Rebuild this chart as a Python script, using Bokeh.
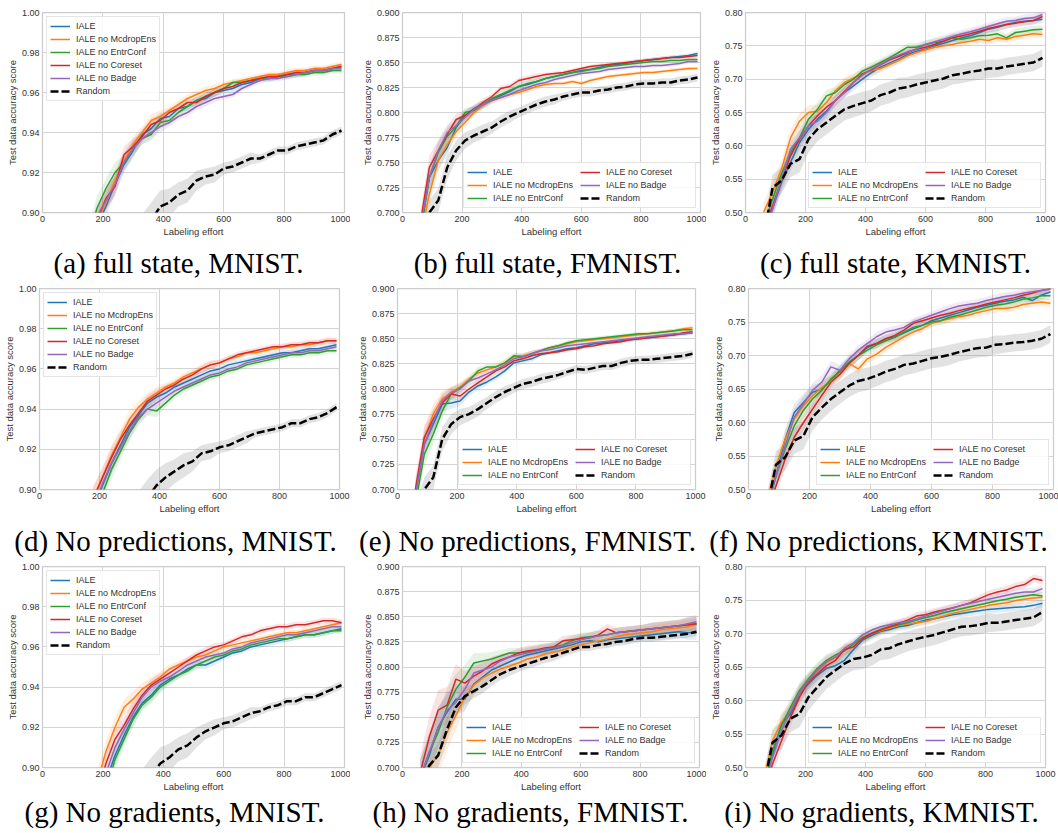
import numpy as np
from bokeh.plotting import figure
from bokeh.layouts import column, row
from bokeh.models import (Range1d, FixedTicker, PrintfTickFormatter, Label,
                          Legend, LegendItem)
from bokeh.embed import file_html
from bokeh.resources import INLINE

# ---------------------------------------------------------------- labels
LABELS = ["IALE", "IALE no McdropEns", "IALE no EntrConf", "IALE no Coreset", "IALE no Badge"]
RANDOM_LABEL = "Random"
COLORS = ["#1f77b4", "#ff7f0e", "#2ca02c", "#d62728", "#9467bd"]

# ---------------------------------------------------------------- x grids / ticks
X_MNIST = [150, 180, 210, 240, 270, 300, 330, 360,
           390, 420, 450, 480, 510, 540, 570, 600,
           630, 660, 690, 720, 750, 780, 810, 840,
           870, 900, 930, 960, 990]
X_WIDE = [60, 90, 120, 150, 180, 210, 240, 270,
          300, 330, 360, 390, 420, 450, 480, 510,
          540, 570, 600, 630, 660, 690, 720, 750,
          780, 810, 840, 870, 900, 930, 960, 990]
X_TICKS = [0, 200, 400, 600, 800, 1000]
MNIST_TICKS = [0.90, 0.92, 0.94, 0.96, 0.98, 1.00]
FMNIST_TICKS = [0.700, 0.725, 0.750, 0.775, 0.800, 0.825, 0.850, 0.875, 0.900]
KMNIST_TICKS = [0.50, 0.55, 0.60, 0.65, 0.70, 0.75, 0.80]

# ---------------------------------------------------------------- (a) full state, MNIST
A_IALE = [0.878, 0.893, 0.903, 0.914, 0.924, 0.931, 0.939, 0.942,
          0.947, 0.948, 0.952, 0.953, 0.956, 0.957, 0.960, 0.961,
          0.962, 0.964, 0.965, 0.967, 0.967, 0.968, 0.969, 0.969,
          0.970, 0.971, 0.971, 0.972, 0.973]
A_MCD = [0.880, 0.895, 0.905, 0.916, 0.926, 0.934, 0.940, 0.946,
         0.948, 0.951, 0.954, 0.957, 0.959, 0.961, 0.962, 0.964,
         0.965, 0.966, 0.967, 0.968, 0.969, 0.969, 0.970, 0.971,
         0.971, 0.972, 0.972, 0.973, 0.974]
A_ENT = [0.886, 0.902, 0.912, 0.920, 0.925, 0.932, 0.937, 0.939,
         0.945, 0.946, 0.950, 0.953, 0.956, 0.958, 0.960, 0.962,
         0.965, 0.965, 0.966, 0.967, 0.967, 0.968, 0.968, 0.969,
         0.969, 0.970, 0.970, 0.971, 0.971]
A_CORE = [0.876, 0.896, 0.907, 0.913, 0.929, 0.933, 0.938, 0.944,
          0.946, 0.950, 0.952, 0.955, 0.955, 0.958, 0.960, 0.962,
          0.963, 0.965, 0.966, 0.967, 0.968, 0.968, 0.969, 0.970,
          0.970, 0.971, 0.971, 0.972, 0.973]
A_BADGE = [0.884, 0.898, 0.906, 0.914, 0.925, 0.932, 0.937, 0.940,
           0.943, 0.945, 0.948, 0.950, 0.953, 0.955, 0.957, 0.958,
           0.959, 0.962, 0.964, 0.966, 0.967, 0.967, 0.968, 0.969,
           0.970, 0.971, 0.971, 0.972, 0.972]
A_RAND = [0.855, 0.862, 0.868, 0.874, 0.879, 0.884, 0.889, 0.896,
          0.903, 0.905, 0.909, 0.911, 0.916, 0.918, 0.919, 0.922,
          0.923, 0.925, 0.927, 0.927, 0.929, 0.931, 0.931, 0.933,
          0.934, 0.935, 0.936, 0.939, 0.941]

# ---------------------------------------------------------------- (d) no predictions, MNIST
D_IALE = [0.872, 0.890, 0.902, 0.913, 0.922, 0.931, 0.937, 0.943,
          0.946, 0.948, 0.951, 0.953, 0.955, 0.957, 0.959, 0.960,
          0.962, 0.963, 0.964, 0.965, 0.966, 0.967, 0.968, 0.968,
          0.969, 0.970, 0.970, 0.971, 0.972]
D_MCD = [0.878, 0.895, 0.906, 0.917, 0.926, 0.935, 0.941, 0.945,
         0.948, 0.951, 0.953, 0.956, 0.958, 0.960, 0.962, 0.963,
         0.965, 0.966, 0.968, 0.968, 0.969, 0.970, 0.971, 0.971,
         0.972, 0.972, 0.973, 0.974, 0.974]
D_ENT = [0.868, 0.885, 0.898, 0.910, 0.919, 0.928, 0.935, 0.940,
         0.939, 0.943, 0.947, 0.950, 0.952, 0.954, 0.956, 0.957,
         0.959, 0.960, 0.962, 0.963, 0.964, 0.965, 0.966, 0.967,
         0.967, 0.968, 0.968, 0.969, 0.969]
D_CORE = [0.880, 0.896, 0.906, 0.916, 0.925, 0.932, 0.938, 0.944,
          0.947, 0.950, 0.952, 0.955, 0.957, 0.960, 0.962, 0.963,
          0.965, 0.967, 0.968, 0.969, 0.970, 0.971, 0.971, 0.972,
          0.972, 0.973, 0.973, 0.974, 0.974]
D_BADGE = [0.874, 0.890, 0.903, 0.913, 0.921, 0.929, 0.936, 0.940,
           0.943, 0.946, 0.949, 0.951, 0.953, 0.955, 0.957, 0.958,
           0.960, 0.961, 0.963, 0.964, 0.965, 0.966, 0.967, 0.968,
           0.968, 0.969, 0.969, 0.970, 0.971]
D_RAND = [0.850, 0.858, 0.865, 0.872, 0.878, 0.884, 0.889, 0.896,
          0.902, 0.906, 0.909, 0.912, 0.914, 0.918, 0.919, 0.921,
          0.922, 0.924, 0.926, 0.928, 0.929, 0.930, 0.931, 0.933,
          0.933, 0.935, 0.936, 0.938, 0.941]

# ---------------------------------------------------------------- (g) no gradients, MNIST
G_IALE = [0.862, 0.878, 0.893, 0.906, 0.916, 0.925, 0.932, 0.936,
          0.941, 0.944, 0.946, 0.949, 0.951, 0.951, 0.953, 0.955,
          0.957, 0.958, 0.960, 0.961, 0.962, 0.963, 0.964, 0.965,
          0.966, 0.966, 0.967, 0.968, 0.969]
G_MCD = [0.875, 0.892, 0.908, 0.920, 0.930, 0.934, 0.939, 0.942,
         0.945, 0.949, 0.951, 0.953, 0.955, 0.956, 0.958, 0.960,
         0.961, 0.962, 0.963, 0.964, 0.965, 0.966, 0.967, 0.967,
         0.968, 0.969, 0.970, 0.971, 0.972]
G_ENT = [0.855, 0.872, 0.888, 0.904, 0.914, 0.924, 0.931, 0.935,
         0.940, 0.943, 0.946, 0.948, 0.951, 0.953, 0.955, 0.956,
         0.958, 0.959, 0.961, 0.962, 0.963, 0.964, 0.964, 0.965,
         0.966, 0.966, 0.967, 0.968, 0.968]
G_CORE = [0.868, 0.885, 0.902, 0.914, 0.921, 0.929, 0.936, 0.941,
          0.944, 0.947, 0.950, 0.953, 0.956, 0.958, 0.960, 0.961,
          0.963, 0.965, 0.966, 0.968, 0.969, 0.970, 0.970, 0.971,
          0.971, 0.972, 0.973, 0.973, 0.972]
G_BADGE = [0.860, 0.880, 0.897, 0.910, 0.919, 0.927, 0.935, 0.940,
           0.943, 0.945, 0.948, 0.951, 0.953, 0.955, 0.956, 0.957,
           0.959, 0.960, 0.962, 0.963, 0.964, 0.965, 0.966, 0.966,
           0.967, 0.968, 0.969, 0.970, 0.970]
G_RAND = [0.852, 0.860, 0.866, 0.872, 0.878, 0.884, 0.889, 0.896,
          0.902, 0.905, 0.909, 0.911, 0.915, 0.918, 0.920, 0.922,
          0.923, 0.925, 0.927, 0.928, 0.930, 0.931, 0.933, 0.933,
          0.935, 0.935, 0.937, 0.939, 0.941]

# ---------------------------------------------------------------- (b) full state, FMNIST
B_IALE = [0.680, 0.735, 0.752, 0.765, 0.785, 0.797, 0.804, 0.808,
          0.813, 0.817, 0.821, 0.826, 0.828, 0.831, 0.834, 0.836,
          0.838, 0.840, 0.842, 0.843, 0.845, 0.847, 0.848, 0.849,
          0.851, 0.852, 0.853, 0.854, 0.855, 0.856, 0.857, 0.859]
B_MCD = [0.675, 0.718, 0.752, 0.768, 0.781, 0.790, 0.800, 0.807,
         0.812, 0.815, 0.818, 0.820, 0.823, 0.826, 0.828, 0.829,
         0.829, 0.831, 0.829, 0.832, 0.834, 0.836, 0.837, 0.838,
         0.839, 0.840, 0.840, 0.841, 0.842, 0.843, 0.844, 0.844]
B_ENT = [0.680, 0.735, 0.760, 0.776, 0.786, 0.800, 0.802, 0.808,
         0.814, 0.818, 0.822, 0.826, 0.829, 0.831, 0.834, 0.836,
         0.838, 0.840, 0.841, 0.843, 0.844, 0.846, 0.847, 0.848,
         0.849, 0.850, 0.851, 0.851, 0.852, 0.852, 0.853, 0.853]
B_CORE = [0.690, 0.745, 0.762, 0.778, 0.793, 0.797, 0.803, 0.810,
          0.816, 0.824, 0.826, 0.832, 0.834, 0.836, 0.838, 0.839,
          0.840, 0.842, 0.844, 0.846, 0.847, 0.848, 0.849, 0.850,
          0.851, 0.852, 0.853, 0.854, 0.855, 0.855, 0.856, 0.857]
B_BADGE = [0.685, 0.735, 0.762, 0.780, 0.787, 0.795, 0.803, 0.808,
           0.812, 0.815, 0.818, 0.822, 0.825, 0.828, 0.830, 0.833,
           0.835, 0.837, 0.839, 0.840, 0.841, 0.843, 0.844, 0.845,
           0.846, 0.846, 0.847, 0.847, 0.848, 0.849, 0.851, 0.851]
B_RAND = [0.680, 0.700, 0.712, 0.745, 0.762, 0.772, 0.777, 0.781,
          0.785, 0.791, 0.796, 0.800, 0.804, 0.808, 0.811, 0.813,
          0.816, 0.818, 0.820, 0.820, 0.822, 0.823, 0.825, 0.826,
          0.828, 0.829, 0.829, 0.830, 0.830, 0.832, 0.833, 0.835]

# ---------------------------------------------------------------- (e) no predictions, FMNIST
E_IALE = [0.695, 0.745, 0.765, 0.785, 0.786, 0.788, 0.797, 0.803,
          0.807, 0.812, 0.818, 0.826, 0.828, 0.830, 0.834, 0.836,
          0.838, 0.840, 0.841, 0.843, 0.845, 0.846, 0.847, 0.848,
          0.849, 0.850, 0.851, 0.852, 0.853, 0.854, 0.855, 0.856]
E_MCD = [0.695, 0.750, 0.775, 0.790, 0.797, 0.802, 0.810, 0.816,
         0.819, 0.822, 0.826, 0.832, 0.833, 0.835, 0.838, 0.841,
         0.843, 0.845, 0.847, 0.848, 0.849, 0.850, 0.851, 0.852,
         0.853, 0.854, 0.855, 0.856, 0.857, 0.858, 0.860, 0.861]
E_ENT = [0.685, 0.735, 0.755, 0.778, 0.795, 0.801, 0.808, 0.818,
         0.822, 0.822, 0.826, 0.833, 0.832, 0.835, 0.838, 0.841,
         0.843, 0.846, 0.848, 0.849, 0.850, 0.851, 0.852, 0.853,
         0.854, 0.855, 0.855, 0.856, 0.857, 0.858, 0.859, 0.859]
E_CORE = [0.700, 0.752, 0.770, 0.786, 0.795, 0.793, 0.800, 0.806,
          0.812, 0.818, 0.822, 0.828, 0.830, 0.833, 0.835, 0.836,
          0.837, 0.839, 0.840, 0.842, 0.843, 0.845, 0.846, 0.847,
          0.849, 0.850, 0.851, 0.852, 0.853, 0.854, 0.856, 0.857]
E_BADGE = [0.695, 0.745, 0.768, 0.788, 0.796, 0.800, 0.808, 0.811,
           0.815, 0.819, 0.824, 0.830, 0.832, 0.835, 0.838, 0.839,
           0.841, 0.843, 0.844, 0.845, 0.846, 0.847, 0.848, 0.849,
           0.850, 0.851, 0.852, 0.853, 0.854, 0.855, 0.855, 0.856]
E_RAND = [0.670, 0.700, 0.712, 0.750, 0.765, 0.772, 0.775, 0.780,
          0.786, 0.792, 0.797, 0.801, 0.805, 0.807, 0.810, 0.812,
          0.814, 0.817, 0.820, 0.819, 0.821, 0.823, 0.823, 0.826,
          0.828, 0.829, 0.829, 0.830, 0.831, 0.832, 0.833, 0.835]

# ---------------------------------------------------------------- (h) no gradients, FMNIST
H_IALE = [0.690, 0.712, 0.740, 0.755, 0.768, 0.768, 0.783, 0.790,
          0.797, 0.801, 0.805, 0.809, 0.812, 0.814, 0.816, 0.818,
          0.820, 0.822, 0.825, 0.826, 0.825, 0.827, 0.828, 0.829,
          0.830, 0.831, 0.832, 0.833, 0.834, 0.835, 0.834, 0.834]
H_MCD = [0.680, 0.700, 0.712, 0.735, 0.752, 0.770, 0.782, 0.789,
         0.794, 0.798, 0.801, 0.804, 0.808, 0.810, 0.813, 0.815,
         0.817, 0.820, 0.822, 0.824, 0.826, 0.828, 0.830, 0.832,
         0.833, 0.834, 0.835, 0.837, 0.838, 0.839, 0.840, 0.842]
H_ENT = [0.690, 0.715, 0.735, 0.760, 0.778, 0.790, 0.804, 0.806,
         0.808, 0.811, 0.814, 0.814, 0.815, 0.817, 0.818, 0.820,
         0.822, 0.826, 0.829, 0.830, 0.831, 0.832, 0.834, 0.835,
         0.836, 0.837, 0.838, 0.839, 0.840, 0.841, 0.842, 0.843]
H_CORE = [0.695, 0.730, 0.757, 0.762, 0.788, 0.784, 0.791, 0.796,
          0.803, 0.807, 0.810, 0.814, 0.816, 0.817, 0.819, 0.820,
          0.826, 0.827, 0.828, 0.829, 0.832, 0.838, 0.834, 0.835,
          0.836, 0.837, 0.838, 0.839, 0.840, 0.841, 0.842, 0.843]
H_BADGE = [0.690, 0.715, 0.740, 0.757, 0.765, 0.778, 0.794, 0.797,
           0.800, 0.806, 0.810, 0.812, 0.814, 0.816, 0.818, 0.819,
           0.821, 0.824, 0.827, 0.829, 0.831, 0.832, 0.834, 0.835,
           0.836, 0.837, 0.838, 0.839, 0.840, 0.841, 0.843, 0.845]
H_RAND = [0.680, 0.702, 0.712, 0.738, 0.760, 0.771, 0.776, 0.781,
          0.787, 0.793, 0.797, 0.800, 0.803, 0.806, 0.809, 0.811,
          0.814, 0.817, 0.820, 0.820, 0.822, 0.823, 0.825, 0.826,
          0.828, 0.829, 0.829, 0.830, 0.831, 0.832, 0.833, 0.835]

# ---------------------------------------------------------------- (c) full state, KMNIST
C_IALE = [0.470, 0.505, 0.545, 0.575, 0.605, 0.625, 0.640, 0.652,
          0.668, 0.680, 0.690, 0.700, 0.710, 0.718, 0.724, 0.730,
          0.737, 0.742, 0.745, 0.750, 0.754, 0.758, 0.762, 0.765,
          0.770, 0.775, 0.778, 0.782, 0.785, 0.787, 0.788, 0.790]
C_MCD = [0.500, 0.530, 0.565, 0.612, 0.637, 0.650, 0.652, 0.665,
         0.683, 0.695, 0.702, 0.708, 0.713, 0.716, 0.722, 0.728,
         0.735, 0.740, 0.744, 0.748, 0.750, 0.752, 0.755, 0.757,
         0.760, 0.758, 0.762, 0.760, 0.764, 0.766, 0.768, 0.767]
C_ENT = [0.480, 0.520, 0.558, 0.590, 0.612, 0.640, 0.655, 0.675,
         0.680, 0.692, 0.700, 0.712, 0.718, 0.725, 0.732, 0.740,
         0.748, 0.748, 0.752, 0.755, 0.757, 0.762, 0.760, 0.762,
         0.765, 0.766, 0.768, 0.762, 0.770, 0.772, 0.774, 0.775]
C_CORE = [0.470, 0.510, 0.548, 0.585, 0.610, 0.630, 0.645, 0.658,
          0.668, 0.682, 0.695, 0.708, 0.714, 0.722, 0.729, 0.734,
          0.740, 0.745, 0.748, 0.752, 0.757, 0.762, 0.765, 0.768,
          0.772, 0.776, 0.779, 0.782, 0.784, 0.786, 0.788, 0.794]
C_BADGE = [0.470, 0.505, 0.550, 0.595, 0.612, 0.630, 0.637, 0.650,
           0.668, 0.680, 0.695, 0.706, 0.715, 0.722, 0.730, 0.736,
           0.741, 0.745, 0.752, 0.756, 0.760, 0.764, 0.768, 0.771,
           0.775, 0.779, 0.783, 0.787, 0.788, 0.791, 0.792, 0.797]
C_RAND = [0.460, 0.537, 0.548, 0.573, 0.580, 0.610, 0.625, 0.635,
          0.645, 0.655, 0.660, 0.664, 0.668, 0.676, 0.680, 0.686,
          0.688, 0.692, 0.695, 0.698, 0.701, 0.706, 0.708, 0.711,
          0.713, 0.716, 0.716, 0.719, 0.721, 0.723, 0.725, 0.732]

# ---------------------------------------------------------------- (f) no predictions, KMNIST
F_IALE = [0.475, 0.520, 0.575, 0.615, 0.630, 0.645, 0.650, 0.662,
          0.678, 0.690, 0.700, 0.712, 0.718, 0.725, 0.728, 0.734,
          0.740, 0.745, 0.752, 0.756, 0.760, 0.764, 0.768, 0.772,
          0.775, 0.778, 0.781, 0.783, 0.787, 0.782, 0.790, 0.795]
F_MCD = [0.480, 0.535, 0.575, 0.605, 0.625, 0.640, 0.652, 0.662,
         0.672, 0.688, 0.680, 0.695, 0.702, 0.712, 0.720, 0.728,
         0.735, 0.740, 0.748, 0.752, 0.755, 0.758, 0.760, 0.764,
         0.767, 0.770, 0.770, 0.772, 0.776, 0.778, 0.780, 0.778]
F_ENT = [0.470, 0.520, 0.560, 0.595, 0.618, 0.635, 0.648, 0.665,
         0.676, 0.690, 0.700, 0.708, 0.716, 0.722, 0.727, 0.735,
         0.742, 0.745, 0.750, 0.752, 0.757, 0.760, 0.764, 0.768,
         0.772, 0.775, 0.777, 0.780, 0.784, 0.786, 0.789, 0.789]
F_CORE = [0.460, 0.505, 0.545, 0.578, 0.600, 0.620, 0.640, 0.660,
          0.672, 0.688, 0.700, 0.714, 0.718, 0.725, 0.730, 0.738,
          0.748, 0.752, 0.756, 0.760, 0.763, 0.767, 0.770, 0.773,
          0.777, 0.780, 0.783, 0.786, 0.790, 0.793, 0.797, 0.800]
F_BADGE = [0.470, 0.520, 0.565, 0.608, 0.628, 0.648, 0.660, 0.683,
           0.678, 0.695, 0.708, 0.718, 0.728, 0.735, 0.738, 0.742,
           0.750, 0.755, 0.760, 0.765, 0.770, 0.774, 0.776, 0.778,
           0.782, 0.785, 0.788, 0.790, 0.793, 0.795, 0.797, 0.799]
F_RAND = [0.470, 0.537, 0.548, 0.573, 0.580, 0.608, 0.622, 0.635,
          0.645, 0.655, 0.662, 0.665, 0.670, 0.676, 0.680, 0.686,
          0.688, 0.692, 0.696, 0.698, 0.701, 0.705, 0.708, 0.711,
          0.712, 0.716, 0.717, 0.719, 0.720, 0.722, 0.725, 0.732]

# ---------------------------------------------------------------- (i) no gradients, KMNIST
I_IALE = [0.470, 0.520, 0.565, 0.580, 0.610, 0.625, 0.638, 0.648,
          0.652, 0.660, 0.676, 0.690, 0.697, 0.703, 0.706, 0.710,
          0.712, 0.716, 0.720, 0.722, 0.725, 0.728, 0.730, 0.732,
          0.734, 0.736, 0.737, 0.738, 0.739, 0.740, 0.742, 0.745]
I_MCD = [0.480, 0.540, 0.568, 0.585, 0.612, 0.628, 0.642, 0.656,
         0.664, 0.675, 0.680, 0.692, 0.700, 0.704, 0.708, 0.712,
         0.714, 0.716, 0.718, 0.722, 0.726, 0.730, 0.733, 0.736,
         0.739, 0.742, 0.744, 0.746, 0.749, 0.751, 0.753, 0.754]
I_ENT = [0.470, 0.525, 0.562, 0.590, 0.615, 0.632, 0.648, 0.660,
         0.668, 0.674, 0.684, 0.694, 0.700, 0.706, 0.710, 0.713,
         0.716, 0.720, 0.724, 0.727, 0.731, 0.734, 0.737, 0.740,
         0.743, 0.746, 0.749, 0.751, 0.754, 0.756, 0.758, 0.756]
I_CORE = [0.460, 0.505, 0.540, 0.575, 0.605, 0.628, 0.640, 0.652,
          0.660, 0.676, 0.680, 0.692, 0.700, 0.705, 0.710, 0.715,
          0.720, 0.726, 0.728, 0.732, 0.735, 0.738, 0.742, 0.746,
          0.752, 0.758, 0.762, 0.765, 0.770, 0.773, 0.782, 0.779]
I_BADGE = [0.465, 0.515, 0.555, 0.585, 0.612, 0.630, 0.645, 0.658,
           0.665, 0.678, 0.686, 0.698, 0.705, 0.710, 0.713, 0.716,
           0.718, 0.722, 0.726, 0.730, 0.734, 0.738, 0.742, 0.745,
           0.748, 0.751, 0.754, 0.757, 0.760, 0.762, 0.762, 0.767]
I_RAND = [0.470, 0.537, 0.548, 0.573, 0.580, 0.605, 0.620, 0.635,
          0.645, 0.655, 0.662, 0.664, 0.668, 0.676, 0.678, 0.684,
          0.688, 0.692, 0.695, 0.698, 0.702, 0.706, 0.710, 0.711,
          0.713, 0.716, 0.716, 0.718, 0.720, 0.722, 0.724, 0.732]

# ---------------------------------------------------------------- confidence half-widths
MN_BAND_IALE = [0.006, 0.006, 0.005, 0.005, 0.004, 0.004, 0.003, 0.003,
                0.003, 0.002, 0.002, 0.002, 0.002, 0.002, 0.002, 0.0015,
                0.0015, 0.0015, 0.0015, 0.0015, 0.0015, 0.0015, 0.0015, 0.0015,
                0.0015, 0.0015, 0.0015, 0.0015, 0.0015]
MN_BAND_RAND = [0.010, 0.010, 0.010, 0.010, 0.010, 0.010, 0.010, 0.009,
                0.008, 0.007, 0.006, 0.006, 0.005, 0.004, 0.004, 0.003,
                0.003, 0.003, 0.003, 0.002, 0.002, 0.002, 0.002, 0.002,
                0.002, 0.002, 0.002, 0.002, 0.002]
FM_BAND_IALE = [0.012, 0.012, 0.010, 0.008, 0.006, 0.005, 0.004, 0.004,
                0.003, 0.003, 0.003, 0.003, 0.003, 0.003, 0.002, 0.002,
                0.002, 0.002, 0.002, 0.002, 0.002, 0.002, 0.002, 0.002,
                0.002, 0.002, 0.002, 0.002, 0.002, 0.002, 0.002, 0.002]
FM_BAND_RAND = [0.012, 0.012, 0.012, 0.012, 0.010, 0.008, 0.007, 0.007,
                0.006, 0.006, 0.006, 0.005, 0.005, 0.005, 0.005, 0.005,
                0.004, 0.004, 0.004, 0.004, 0.004, 0.004, 0.004, 0.004,
                0.004, 0.004, 0.004, 0.004, 0.004, 0.004, 0.004, 0.004]
H_BAND_IALE = [0.018, 0.020, 0.020, 0.018, 0.015, 0.012, 0.010, 0.008,
               0.007, 0.006, 0.005, 0.005, 0.005, 0.005, 0.005, 0.005,
               0.005, 0.005, 0.005, 0.005, 0.005, 0.005, 0.005, 0.005,
               0.005, 0.005, 0.006, 0.006, 0.006, 0.006, 0.007, 0.007]
KM_BAND_IALE = [0.015, 0.015, 0.014, 0.013, 0.012, 0.011, 0.010, 0.009,
                0.008, 0.008, 0.007, 0.007, 0.007, 0.006, 0.006, 0.006,
                0.006, 0.006, 0.006, 0.006, 0.006, 0.006, 0.006, 0.006,
                0.006, 0.006, 0.006, 0.006, 0.006, 0.006, 0.006, 0.006]
KM_BAND_RAND = [0.020, 0.020, 0.020, 0.020, 0.020, 0.020, 0.018, 0.018,
                0.017, 0.017, 0.017, 0.017, 0.016, 0.016, 0.016, 0.016,
                0.015, 0.015, 0.015, 0.015, 0.015, 0.014, 0.014, 0.014,
                0.014, 0.014, 0.013, 0.013, 0.013, 0.013, 0.013, 0.013]

SANS = "Liberation Sans"
SERIF = "Liberation Serif"
TEXT_GREY = "#333333"
EDGE_GREY = "#cccccc"

COL_W = [350, 356, 352]          # widths of the three columns
PANEL_H = [240, 237, 237]        # plot heights per row
CAPTION_H = [40, 41, 38]         # caption strip heights per row
TOP_BORDER = [12, 8, 8]
BOTTOM_BORDER = 28


def make_panel(x, curves, rand, band_ale, band_rand, yticks, yfmt,
               legend_loc, col, rw, left, right):
    p = figure(width=COL_W[col], height=PANEL_H[rw], output_backend="svg",
               toolbar_location=None, title=None,
               x_range=Range1d(0, 1000), y_range=Range1d(yticks[0], yticks[-1]),
               min_border_left=left, min_border_right=right,
               min_border_top=TOP_BORDER[rw], min_border_bottom=BOTTOM_BORDER,
               background_fill_color="white", border_fill_color="white")
    xs = np.array(x, dtype=float)
    ba = np.array(band_ale)
    br = np.array(band_rand)

    # shaded spread around each curve
    for vals, c in zip(curves, COLORS):
        v = np.array(vals)
        p.varea(x=xs, y1=v - ba, y2=v + ba, fill_color=c, fill_alpha=0.13)
    rv = np.array(rand)
    p.varea(x=xs, y1=rv - br, y2=rv + br, fill_color="#8c8c8c", fill_alpha=0.25)

    items = []
    for vals, lab, c in zip(curves, LABELS, COLORS):
        r = p.line(xs, vals, line_color=c, line_width=1.5)
        items.append(LegendItem(label=lab, renderers=[r]))
    r = p.line(xs, rand, line_color="black", line_width=2.5, line_dash="8 3")
    items.append(LegendItem(label=RANDOM_LABEL, renderers=[r]))

    p.xaxis.ticker = FixedTicker(ticks=X_TICKS)
    p.yaxis.ticker = FixedTicker(ticks=yticks)
    p.yaxis.formatter = PrintfTickFormatter(format=yfmt)
    p.xaxis.axis_label = "Labeling effort"
    p.yaxis.axis_label = "Test data accuracy score"
    for ax in p.axis:
        ax.axis_line_color = None
        ax.major_tick_line_color = None
        ax.minor_tick_line_color = None
        ax.major_tick_out = 0
        ax.major_tick_in = 0
        ax.minor_tick_out = 0
        ax.minor_tick_in = 0
        ax.major_label_text_font = SANS
        ax.major_label_text_font_size = "9px"
        ax.major_label_text_color = TEXT_GREY
        ax.axis_label_text_font = SANS
        ax.axis_label_text_font_size = "9.5px"
        ax.axis_label_text_font_style = "normal"
        ax.axis_label_text_color = TEXT_GREY
        ax.major_label_standoff = 3
        ax.axis_label_standoff = 1

    p.grid.grid_line_color = "#d4d4d4"
    p.grid.grid_line_width = 1
    p.outline_line_color = EDGE_GREY
    p.outline_line_width = 1.25

    lg = Legend(items=items, location=legend_loc, margin=4, padding=3,
                spacing=1, label_height=12, glyph_height=12, glyph_width=20,
                label_standoff=6, label_text_font=SANS,
                label_text_font_size="9px", label_text_color=TEXT_GREY,
                border_line_color=EDGE_GREY, border_line_width=1,
                background_fill_color="white", background_fill_alpha=0.85)
    if legend_loc == "bottom_right":
        lg.ncols = 2
        lg.label_width = 86
    p.add_layout(lg)
    return p


def make_caption(text, col, rw, cx, cy_from_top):
    h = CAPTION_H[rw]
    w = COL_W[col]
    p = figure(width=w, height=h, output_backend="svg", toolbar_location=None,
               title=None, x_range=Range1d(0, w), y_range=Range1d(0, h),
               x_axis_type=None, y_axis_type=None, min_border=0,
               min_border_left=0, min_border_right=0, min_border_top=0,
               min_border_bottom=0, outline_line_color=None,
               background_fill_color="white", border_fill_color="white")
    p.add_layout(Label(x=cx, y=h - cy_from_top, text=text, text_font=SERIF,
                       text_font_size="29px", text_color="black",
                       text_align="center", text_baseline="middle"))
    return p


MN = dict(x=X_MNIST, band_ale=MN_BAND_IALE, band_rand=MN_BAND_RAND,
          yticks=MNIST_TICKS, yfmt="%.2f", legend_loc="top_left", col=0)
FM = dict(x=X_WIDE, band_rand=FM_BAND_RAND, yticks=FMNIST_TICKS,
          yfmt="%.3f", legend_loc="bottom_right", col=1)
KM = dict(x=X_WIDE, band_ale=KM_BAND_IALE, band_rand=KM_BAND_RAND,
          yticks=KMNIST_TICKS, yfmt="%.2f", legend_loc="bottom_right", col=2)

pa = make_panel(curves=[A_IALE, A_MCD, A_ENT, A_CORE, A_BADGE], rand=A_RAND,
                rw=0, left=42, right=6, **MN)
pb = make_panel(curves=[B_IALE, B_MCD, B_ENT, B_CORE, B_BADGE], rand=B_RAND,
                band_ale=FM_BAND_IALE, rw=0, left=52, right=6, **FM)
pc = make_panel(curves=[C_IALE, C_MCD, C_ENT, C_CORE, C_BADGE], rand=C_RAND,
                rw=0, left=36, right=13, **KM)

pd_ = make_panel(curves=[D_IALE, D_MCD, D_ENT, D_CORE, D_BADGE], rand=D_RAND,
                 rw=1, left=36, right=11, **MN)
pe = make_panel(curves=[E_IALE, E_MCD, E_ENT, E_CORE, E_BADGE], rand=E_RAND,
                band_ale=FM_BAND_IALE, rw=1, left=47, right=11, **FM)
pf = make_panel(curves=[F_IALE, F_MCD, F_ENT, F_CORE, F_BADGE], rand=F_RAND,
                rw=1, left=42, right=5, **KM)

pg = make_panel(curves=[G_IALE, G_MCD, G_ENT, G_CORE, G_BADGE], rand=G_RAND,
                rw=2, left=42, right=6, **MN)
ph = make_panel(curves=[H_IALE, H_MCD, H_ENT, H_CORE, H_BADGE], rand=H_RAND,
                band_ale=H_BAND_IALE, rw=2, left=52, right=7, **FM)
pi = make_panel(curves=[I_IALE, I_MCD, I_ENT, I_CORE, I_BADGE], rand=I_RAND,
                rw=2, left=36, right=13, **KM)

ca = make_caption("(a) full state, MNIST.", 0, 0, 178, 22)
cb = make_caption("(b) full state, FMNIST.", 1, 0, 197, 22)
cc = make_caption("(c) full state, KMNIST.", 2, 0, 189, 22)
cd = make_caption("(d) No predictions, MNIST.", 0, 1, 175, 23)
ce = make_caption("(e) No predictions, FMNIST.", 1, 1, 177, 23)
cf = make_caption("(f) No predictions, KMNIST.", 2, 1, 172, 23)
cg = make_caption("(g) No gradients, MNIST.", 0, 2, 174, 16)
ch = make_caption("(h) No gradients, FMNIST.", 1, 2, 180, 16)
ci = make_caption("(i) No gradients, KMNIST.", 2, 2, 175, 16)

layout = column(row(pa, pb, pc), row(ca, cb, cc),
                row(pd_, pe, pf), row(cd, ce, cf),
                row(pg, ph, pi), row(cg, ch, ci))

with open("out.html", "w") as fh:
    fh.write(file_html(layout, INLINE))
